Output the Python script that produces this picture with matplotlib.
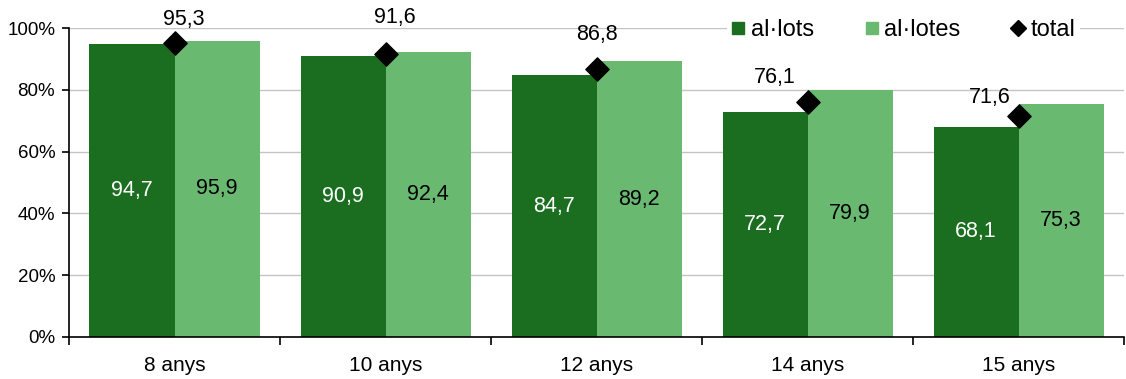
import numpy as np
import matplotlib.pyplot as plt
from matplotlib.ticker import FuncFormatter
from matplotlib.lines import Line2D

plt.rcParams['font.family'] = ['Liberation Sans', 'DejaVu Sans']

# --
# data

categories = ['8 anys', '10 anys', '12 anys', '14 anys', '15 anys']
nois = [94.7, 90.9, 84.7, 72.7, 68.1]
noies = [95.9, 92.4, 89.2, 79.9, 75.3]
total = [95.3, 91.6, 86.8, 76.1, 71.6]

# label nudges for the total values (pixels), hand placed as in the original
total_offsets = [(9, 23), (9, 36), (0, 34), (-33, 24), (-29, 18)]

DARK = '#1b6e20'
LIGHT = '#69b970'

# --
# plot

fig = plt.figure(figsize=(11.26, 3.79), dpi=100)
ax = fig.add_axes([0.0613, 0.111, 0.937, 0.815])

x = np.arange(len(categories))
w = 0.403
ax.bar(x - w / 2, nois, w, color=DARK, zorder=2)
ax.bar(x + w / 2, noies, w, color=LIGHT, zorder=2)
ax.scatter(x, total, marker='D', s=140, color='black', zorder=3)

fmt = lambda v: f'{v:.1f}'.replace('.', ',')
for i in range(len(categories)):
    ax.text(x[i] - w / 2, nois[i] / 2, fmt(nois[i]), ha='center', va='center',
            color='white', fontsize=15.5)
    ax.text(x[i] + w / 2, noies[i] / 2, fmt(noies[i]), ha='center', va='center',
            color='black', fontsize=15.5)
    ax.annotate(fmt(total[i]), (x[i], total[i]), xytext=total_offsets[i],
                textcoords='offset pixels', ha='center', va='center',
                fontsize=15.5, zorder=5)

ax.set_xlim(-0.5, len(categories) - 0.5)
ax.set_ylim(0, 100)
ax.set_yticks(range(0, 101, 20))
ax.yaxis.set_major_formatter(FuncFormatter(lambda v, p: f'{int(v)}%'))
ax.set_xticks(x)
ax.set_xticklabels(categories, fontsize=15)
ax.set_xticks(np.arange(-0.5, len(categories)), minor=True)
ax.tick_params(axis='x', which='major', length=0, pad=14)
ax.tick_params(axis='x', which='minor', length=6, width=1.2, color='black', direction='out')
ax.tick_params(axis='y', labelsize=13.5, length=5, width=1.2, direction='out', pad=5)

ax.grid(axis='y', color='#c4c4c4', linewidth=1, zorder=0)
ax.set_axisbelow(True)
for s in ['top', 'right']:
    ax.spines[s].set_visible(False)
ax.spines['left'].set_linewidth(1.2)
ax.spines['bottom'].set_linewidth(1.2)
ax.spines['bottom'].set_zorder(4)

handles = [
    Line2D([], [], marker='s', linestyle='none', color=DARK, markersize=9),
    Line2D([], [], marker='s', linestyle='none', color=LIGHT, markersize=9),
    Line2D([], [], marker='D', linestyle='none', color='black', markersize=8),
]
leg = ax.legend(handles, ['al·lots', 'al·lotes', 'total'], ncol=3,
                loc='center right', bbox_to_anchor=(0.959, 0.921),
                bbox_transform=fig.transFigure, borderaxespad=0,
                fontsize=17, frameon=True, facecolor='white', edgecolor='none',
                framealpha=1, handlelength=0.6, handletextpad=0.22,
                columnspacing=2.15, borderpad=0.2)
leg.set_zorder(6)

plt.savefig('out.png', dpi=100)
